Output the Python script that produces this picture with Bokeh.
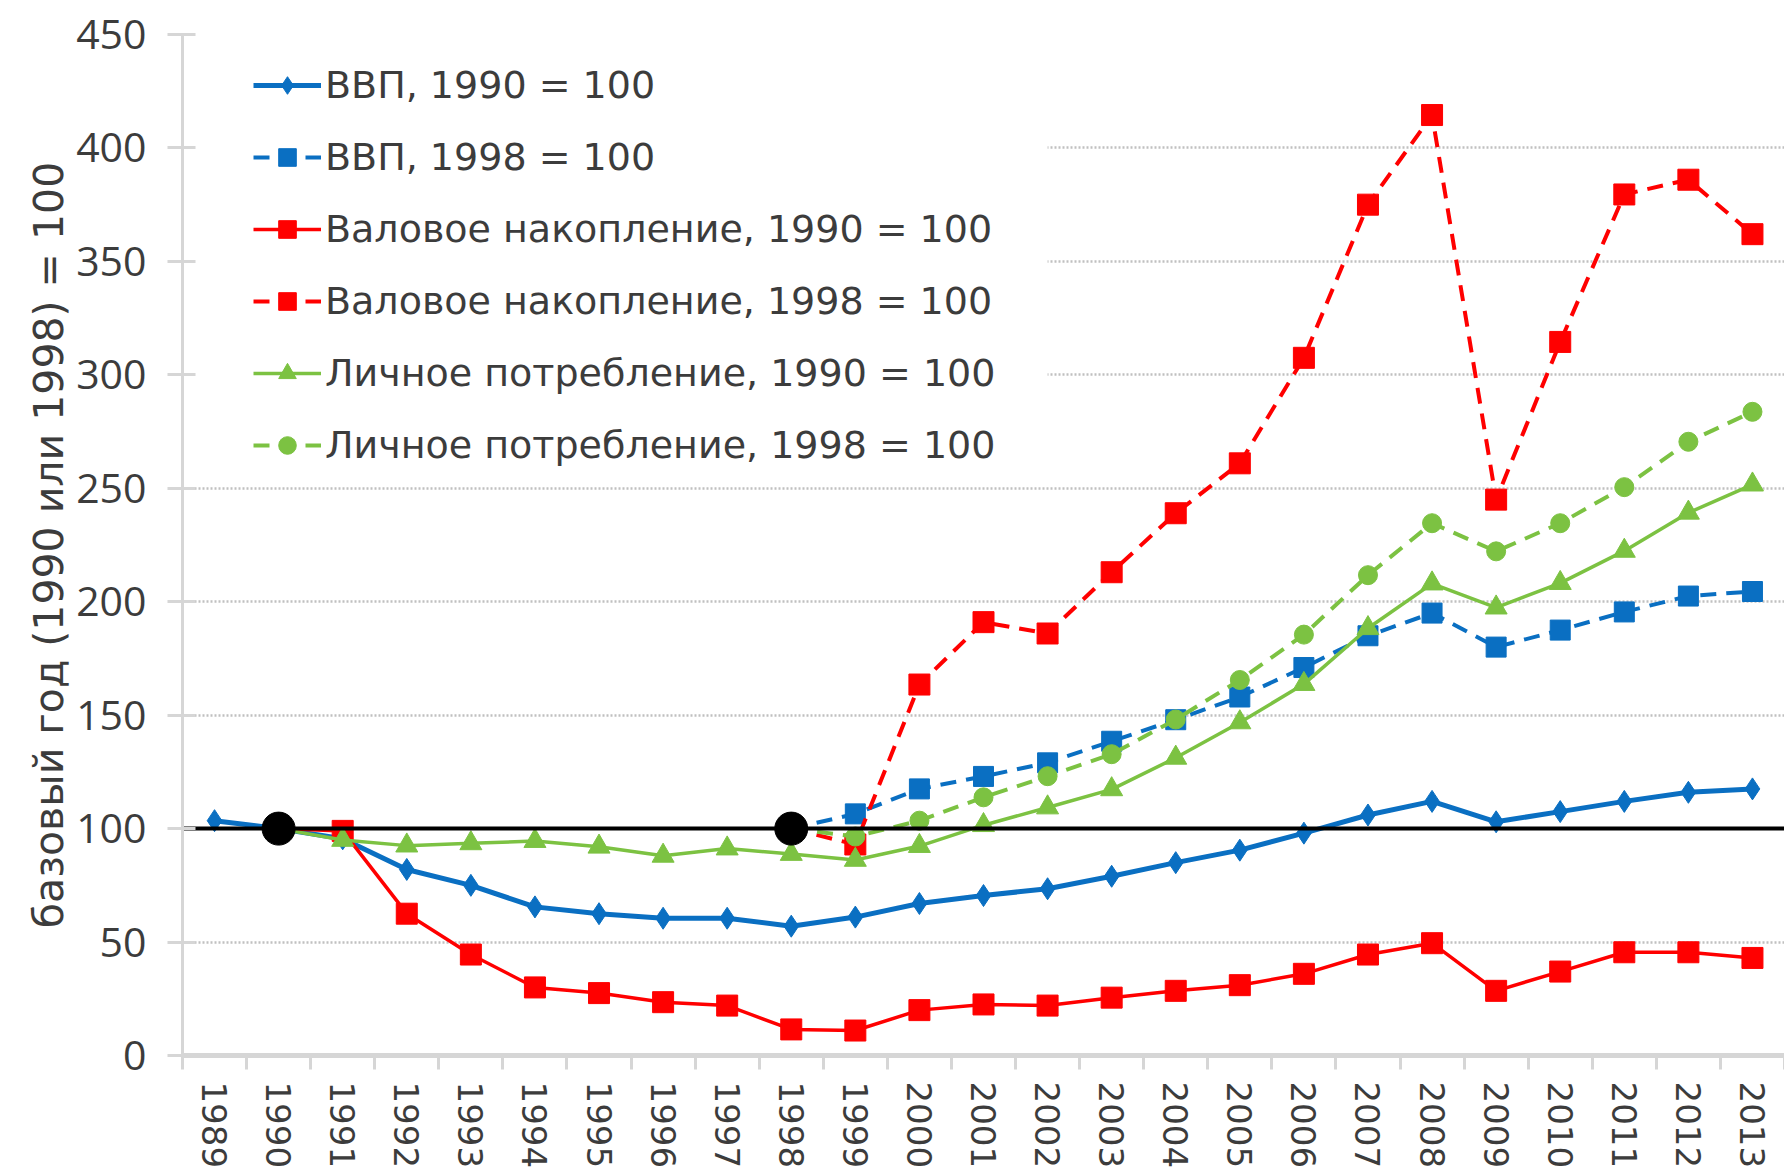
from bokeh.plotting import figure
from bokeh.models import Range1d, FixedTicker, Span, Legend, LegendItem, BoxAnnotation
from bokeh.embed import file_html
from bokeh.resources import INLINE

# ---------------- data ----------------
years = list(range(1989, 2014))
years_1990 = list(range(1990, 2014))
years_1998 = list(range(1998, 2014))

gdp_1990 = [103.5, 100, 95.5, 82, 75, 65.5, 62.5, 60.5, 60.5, 57, 61, 67, 70.5,
            73.5, 79, 85, 90.5, 98, 106, 112, 103, 107.5, 112, 116, 117.5]
gdp_1998 = [100, 106.5, 117.5, 123, 129, 138.5, 148, 158, 171, 185, 195, 180,
            187.5, 195.5, 202.5, 204.5]
inv_1990 = [100, 99, 62.5, 44.5, 30, 27.5, 23.5, 22, 11.5, 11, 20, 22.5, 22,
            25.5, 28.5, 31, 36, 44.5, 49.5, 28.5, 37, 45.5, 45.5, 43]
inv_1998 = [100, 93, 163.5, 191, 186, 213, 239, 261, 307.5, 375, 414.5, 245,
            314.5, 379.5, 386, 362]
cons_1990 = [100, 95, 92.5, 93.5, 94.5, 92, 88, 91.2, 88.8, 86.2, 92.3, 101.5,
             109.3, 117.3, 131.2, 146.8, 163.7, 188.3, 208, 197.4, 208.2, 222.4,
             239.2, 251.6]
cons_1998 = [100, 96.5, 103.5, 113.8, 123.1, 132.8, 148.1, 165.5, 185.5, 211.7,
             234.6, 222.2, 234.6, 250.5, 270.5, 283.7]
base_years = [1990, 1998]
base_values = [100, 100]
y_ticks = [0, 50, 100, 150, 200, 250, 300, 350, 400, 450]

labels = ["ВВП, 1990 = 100", "ВВП, 1998 = 100",
          "Валовое накопление, 1990 = 100", "Валовое накопление, 1998 = 100",
          "Личное потребление, 1990 = 100", "Личное потребление, 1998 = 100"]
y_title = "базовый год (1990 или 1998) = 100"

# ---------------- style ----------------
BLUE = "#0a6fc2"
RED = "#ff0000"
GREEN = "#7cc242"
TXT = "#3c3c3c"
AX = "#d6d6d6"
DASH = "16 10"

p = figure(width=1784, height=1176, output_backend="svg", toolbar_location=None,
           x_range=Range1d(years[0] - 0.5, years[-1] + 0.5),
           y_range=Range1d(y_ticks[0], y_ticks[-1]),
           min_border_left=182, min_border_right=0, min_border_top=34,
           min_border_bottom=121)
p.outline_line_color = None
p.background_fill_color = "white"
p.xgrid.visible = False
p.ygrid.ticker = FixedTicker(ticks=y_ticks[1:])
p.ygrid.grid_line_color = "#c0c0c0"
p.ygrid.grid_line_dash = "2 2"
p.ygrid.grid_line_width = 2.5

# white area behind the legend hides the grid there
p.add_layout(BoxAnnotation(left=years[0] - 0.5, right=2002.0, bottom=258, top=438,
                           fill_color="white", fill_alpha=1.0, line_color=None,
                           level="underlay"))

# x axis
xax = p.xaxis[0]
xax.ticker = FixedTicker(ticks=years, minor_ticks=[y - 0.5 for y in years] + [years[-1] + 0.5])
xax.major_label_orientation = "vertical"
xax.major_tick_line_color = None
xax.major_tick_in = 0
xax.major_tick_out = 0
xax.minor_tick_in = 0
xax.minor_tick_out = 14
xax.minor_tick_line_color = AX
xax.minor_tick_line_width = 3
xax.axis_line_color = AX
xax.axis_line_width = 5
xax.major_label_standoff = 12
xax.major_label_text_font = "DejaVu Sans"
xax.major_label_text_font_size = "34px"
xax.major_label_text_color = TXT

# y axis
yax = p.yaxis[0]
yax.ticker = FixedTicker(ticks=y_ticks)
yax.major_tick_in = 13
yax.major_tick_out = 15
yax.major_tick_line_color = AX
yax.major_tick_line_width = 3
yax.minor_tick_line_color = None
yax.axis_line_color = AX
yax.axis_line_width = 3
yax.major_label_standoff = 21
yax.major_label_text_font = "Open Sans"
yax.major_label_text_font_size = "41px"
yax.major_label_text_color = TXT
yax.axis_label = y_title
yax.axis_label_text_font = "DejaVu Sans"
yax.axis_label_text_font_size = "41px"
yax.axis_label_text_font_style = "normal"
yax.axis_label_text_color = TXT
yax.axis_label_standoff = 0

# ---------------- series ----------------
items = []

l = p.line(years, gdp_1990, line_color=BLUE, line_width=5)
s = p.scatter(years, gdp_1990, marker="diamond", size=22, fill_color=BLUE, line_color=BLUE)
items.append(LegendItem(label=labels[0], renderers=[l, s]))

l = p.line(years_1998, gdp_1998, line_color=BLUE, line_width=4, line_dash=DASH)
s = p.scatter(years_1998, gdp_1998, marker="square", size=20, fill_color=BLUE, line_color=BLUE)
items.append(LegendItem(label=labels[1], renderers=[l, s]))

l = p.line(years_1990, inv_1990, line_color=RED, line_width=3.5)
s = p.scatter(years_1990, inv_1990, marker="square", size=21, fill_color=RED, line_color=RED)
items.append(LegendItem(label=labels[2], renderers=[l, s]))

l = p.line(years_1998, inv_1998, line_color=RED, line_width=4, line_dash=DASH)
s = p.scatter(years_1998, inv_1998, marker="square", size=21, fill_color=RED, line_color=RED)
items.append(LegendItem(label=labels[3], renderers=[l, s]))

l = p.line(years_1990, cons_1990, line_color=GREEN, line_width=3.5)
s = p.scatter(years_1990, cons_1990, marker="triangle", size=22, fill_color=GREEN, line_color=GREEN)
items.append(LegendItem(label=labels[4], renderers=[l, s]))

l = p.line(years_1998, cons_1998, line_color=GREEN, line_width=4, line_dash=DASH)
s = p.scatter(years_1998, cons_1998, marker="circle", size=19, fill_color=GREEN, line_color=GREEN)
items.append(LegendItem(label=labels[5], renderers=[l, s]))

# base line at 100 and the two base years
p.add_layout(Span(location=base_values[0], dimension="width", line_color="black",
                  line_width=4, level="glyph"))
p.scatter(base_years, base_values, marker="circle", size=33, fill_color="black",
          line_color="black")

legend = Legend(items=items, location=(71, 588), orientation="vertical",
                background_fill_alpha=0, border_line_color=None,
                glyph_width=68, glyph_height=44, label_height=44,
                label_standoff=4, spacing=28, padding=0, margin=0,
                label_text_font="DejaVu Sans", label_text_font_size="38px",
                label_text_color=TXT)
p.add_layout(legend)

open("out.html", "w").write(file_html(p, INLINE))
